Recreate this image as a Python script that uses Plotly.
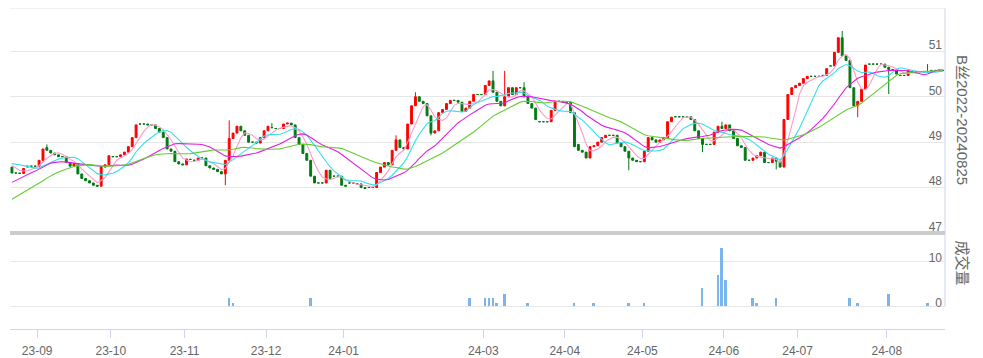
import plotly.graph_objects as go
import pandas as pd

# ---------------- data ----------------
# 29 trading days before the visible window, used only to seed moving averages
pre_close = [46.85, 46.90, 46.95, 47.00, 46.95, 47.00, 47.05, 47.00, 47.10, 47.20,
             47.40, 47.50, 47.55, 47.60, 47.70, 47.75, 47.80, 47.85, 47.90, 47.95,
             48.40, 48.50, 48.60, 48.70, 48.65, 48.60, 48.55, 48.50, 48.45]

open_ = [48.45, 48.32, 48.32, 48.31, 48.45, 48.47, 48.47, 48.47, 48.60, 48.88,
         48.82, 48.76, 48.72, 48.68, 48.68, 48.55, 48.47, 48.53, 48.30, 48.20,
         48.15, 48.10, 48.05, 48.03, 48.45, 48.50, 48.68, 48.68, 48.68, 48.72,
         48.78, 48.90, 49.10, 49.40, 49.40, 49.40, 49.38, 49.38, 49.30, 49.22,
         49.10, 48.85, 48.80, 48.57, 48.52, 48.50, 48.62, 48.60, 48.60, 48.65,
         48.65, 48.48, 48.43, 48.40, 48.35, 48.30, 48.60, 49.08, 49.20, 49.35,
         49.25, 49.15, 49.00, 49.00, 48.98, 49.10, 49.25, 49.32, 49.30, 49.30,
         49.30, 49.40, 49.42, 49.38, 49.10, 48.95, 48.75, 48.60, 48.25, 48.10,
         48.10, 48.10, 48.38, 48.25, 48.25, 48.25, 48.05, 48.10, 48.10, 48.08,
         48.08, 48.00, 48.00, 48.00, 48.00, 48.33, 48.45, 48.55, 48.50, 48.82,
         49.05, 48.88, 48.85, 49.40, 49.80, 50.00, 49.90, 49.85, 49.58, 49.20,
         49.25, 49.65, 49.72, 49.85, 49.92, 49.92, 49.88, 49.68, 49.75, 49.90,
         50.05, 50.05, 50.05, 50.25, 50.35, 50.10, 49.90, 49.80, 50.00, 50.20,
         50.05, 50.20, 50.20, 50.00, 49.85, 49.75, 49.45, 49.45, 49.45, 49.45,
         49.70, 49.90, 49.90, 49.88, 49.88, 49.65, 48.95, 48.82, 48.78, 48.65,
         48.90, 48.92, 49.00, 49.10, 49.15, 49.15, 49.15, 48.98, 48.90, 48.80,
         48.65, 48.60, 48.57, 48.57, 48.80, 49.10, 49.05, 49.00, 49.05, 49.10,
         49.45, 49.56, 49.56, 49.56, 49.56, 49.56, 49.50, 49.25, 49.08, 48.95,
         48.95, 48.95, 49.22, 49.35, 49.30, 49.38, 49.25, 49.08, 48.92, 48.88,
         48.60, 48.60, 48.65, 48.70, 48.78, 48.55, 48.55, 48.65, 48.58, 48.45,
         49.50, 50.05, 50.20, 50.25, 50.30, 50.40, 50.45, 50.45, 50.45, 50.47,
         50.47, 50.68, 50.68, 50.98, 51.30, 50.90, 50.80, 50.20, 49.80, 49.90,
         50.17, 50.72, 50.72, 50.72, 50.72, 50.72, 50.65, 50.60, 50.58, 50.47,
         50.47, 50.47, 50.55, 50.55, 50.55, 50.55, 50.55, 50.58, 50.58, 50.58,
         50.58]

close = [48.32, 48.32, 48.31, 48.42, 48.47, 48.47, 48.47, 48.60, 48.85, 48.82,
         48.76, 48.72, 48.68, 48.68, 48.55, 48.47, 48.53, 48.30, 48.20, 48.15,
         48.10, 48.05, 48.03, 48.45, 48.50, 48.70, 48.68, 48.68, 48.72, 48.78,
         48.90, 49.10, 49.38, 49.40, 49.40, 49.38, 49.38, 49.30, 49.22, 49.10,
         48.85, 48.80, 48.57, 48.52, 48.50, 48.63, 48.62, 48.60, 48.65, 48.65,
         48.48, 48.43, 48.40, 48.35, 48.30, 48.60, 49.08, 49.20, 49.35, 49.25,
         49.15, 49.00, 49.00, 48.98, 49.10, 49.25, 49.35, 49.32, 49.30, 49.30,
         49.40, 49.42, 49.38, 49.10, 48.95, 48.75, 48.60, 48.25, 48.10, 48.10,
         48.10, 48.38, 48.20, 48.25, 48.25, 48.05, 48.03, 48.10, 48.10, 48.08,
         48.00, 47.98, 48.00, 48.00, 48.33, 48.45, 48.55, 48.50, 48.82, 49.05,
         48.88, 48.85, 49.40, 49.80, 50.00, 49.90, 49.85, 49.58, 49.20, 49.25,
         49.65, 49.72, 49.85, 49.92, 49.92, 49.88, 49.68, 49.75, 49.90, 50.05,
         50.05, 50.05, 50.25, 50.35, 50.10, 49.90, 49.80, 50.00, 50.20, 50.05,
         50.20, 50.20, 50.00, 49.85, 49.75, 49.50, 49.45, 49.45, 49.45, 49.70,
         49.90, 49.90, 49.88, 49.88, 49.65, 48.90, 48.82, 48.78, 48.65, 48.90,
         48.92, 49.00, 49.10, 49.15, 49.15, 49.15, 48.98, 48.90, 48.80, 48.65,
         48.60, 48.57, 48.57, 48.80, 49.10, 49.05, 49.00, 49.05, 49.10, 49.45,
         49.55, 49.56, 49.56, 49.56, 49.56, 49.50, 49.25, 49.08, 48.95, 48.95,
         48.95, 49.22, 49.35, 49.30, 49.38, 49.25, 49.08, 48.92, 48.88, 48.60,
         48.60, 48.65, 48.70, 48.78, 48.55, 48.55, 48.65, 48.58, 48.45, 49.50,
         50.05, 50.20, 50.25, 50.30, 50.40, 50.45, 50.45, 50.45, 50.45, 50.47,
         50.62, 50.68, 50.98, 51.30, 50.90, 50.80, 50.20, 49.80, 49.90, 50.17,
         50.70, 50.72, 50.72, 50.72, 50.72, 50.65, 50.60, 50.58, 50.50, 50.47,
         50.47, 50.58, 50.55, 50.55, 50.55, 50.55, 50.55, 50.58, 50.58, 50.58,
         50.58]

# notable shadows (index -> price); other candles have no visible wicks
wick_high = {9: 48.95, 56: 49.48, 67: 49.42, 99: 49.15, 104: 50.10, 124: 50.57,
             127: 50.57, 132: 50.32, 183: 49.45, 214: 51.45, 236: 50.72}
wick_low = {55: 48.05, 108: 49.15, 159: 48.38, 178: 48.78, 197: 48.40,
            218: 49.55, 226: 50.06}

# volume (index -> lots); all other days zero
volume_nonzero = {56: 1.8, 57: 0.7, 77: 1.8, 118: 1.8, 122: 1.8, 123: 1.8, 124: 1.8,
                  125: 0.7, 127: 2.8, 133: 0.7, 145: 0.7, 150: 0.7, 159: 0.7,
                  163: 0.7, 178: 4.1, 182: 7.0, 183: 13.0, 184: 6.0, 191: 1.8,
                  192: 0.7, 197: 1.8, 216: 1.8, 218: 0.7, 226: 2.8, 236: 0.7}

# month start positions (trading-day index) and labels
month_start = [7, 26, 45, 66, 86, 122, 143, 163, 184, 203, 226]
month_label = ["23-09", "23-10", "23-11", "23-12", "24-01", "24-03",
               "24-04", "24-05", "24-06", "24-07", "24-08"]

ma_periods = [5, 10, 20, 30]
ma_colors = ["#ff99cc", "#33e0ee", "#e020e0", "#66cc33"]

# ---------------- derived ----------------
n = len(close)
idx = list(range(n))
high = [max(o, c, wick_high.get(i, 0)) for i, (o, c) in enumerate(zip(open_, close))]
low = [min(o, c, wick_low.get(i, 99)) for i, (o, c) in enumerate(zip(open_, close))]
volume = [volume_nonzero.get(i, 0) for i in idx]
full = pd.Series(pre_close + close)
npre = len(pre_close)

RED, GREEN = "#ff0000", "#007a14"
body = [i for i in idx if open_[i] != close[i]]
doji = [i for i in idx if open_[i] == close[i]]

def pick(arr, sel):
    return [arr[i] for i in sel]

fig = go.Figure()
fig.add_trace(go.Candlestick(
    x=body, open=pick(open_, body), high=pick(high, body),
    low=pick(low, body), close=pick(close, body),
    increasing=dict(line=dict(color=RED, width=1), fillcolor=RED),
    decreasing=dict(line=dict(color=GREEN, width=1), fillcolor=GREEN),
    xaxis="x", yaxis="y", hoverinfo="skip", whiskerwidth=0))
# flat (open == close) days are drawn as dark-green dashes
fig.add_trace(go.Candlestick(
    x=doji, open=pick(open_, doji), high=pick(high, doji),
    low=pick(low, doji), close=pick(close, doji),
    increasing=dict(line=dict(color=GREEN, width=1), fillcolor=GREEN),
    decreasing=dict(line=dict(color=GREEN, width=1), fillcolor=GREEN),
    xaxis="x", yaxis="y", hoverinfo="skip", whiskerwidth=0))

for p, col in zip(ma_periods, ma_colors):
    ma = full.rolling(p).mean().iloc[npre:].tolist()
    fig.add_trace(go.Scatter(x=idx, y=ma, mode="lines",
                             line=dict(color=col, width=1.1),
                             xaxis="x", yaxis="y", hoverinfo="skip"))

fig.add_trace(go.Bar(x=idx, y=volume, marker=dict(color="#7cb5ec", line=dict(width=0)),
                     width=0.5, xaxis="x2", yaxis="y2", hoverinfo="skip"))

# The page body has an 8px default margin, so the figure is sized to the
# visible window and positions below are given in page pixels.
OFF = 8
W, H = 983 - OFF, 358 - OFF
PX0, PX1 = 10, 945      # plot area, page x
PY0, PY1 = OFF, 332     # plot area, page y
L, R = PX0 - OFF, W - (PX1 - OFF)
T, B = PY0 - OFF, H - (PY1 - OFF)
ph = PY1 - PY0
pw = PX1 - PX0

def py(Y):
    return (PY1 - Y) / ph

def px(X):
    return (X - PX0) / pw

PPU = 45.8                     # pixels per price unit (47 at page y 235)
price_bot_y = 245              # price domain bottom (page y), a little below 47
price_top = 47 + (235 - PY0) / PPU
price_bot = 47 - (price_bot_y - 235) / PPU
VPU = 4.5                      # pixels per volume unit (0 at page y 309)
vol_top = (309 - 237) / VPU
vol_bot = -(PY1 - 309) / VPU

font = "Liberation Sans, Arial, Noto Sans CJK SC, sans-serif"
grid = "#e6e6e6"
axc = "#ccd6eb"

fig.update_layout(
    width=W, height=H, margin=dict(l=L, r=R, t=T, b=B, pad=0),
    paper_bgcolor="white", plot_bgcolor="white", showlegend=False,
    font=dict(family=font, size=12, color="#666666"),
    xaxis=dict(domain=[0, 1], anchor="y", range=[-0.5, n - 0.5],
               showticklabels=False, showgrid=False, zeroline=False,
               rangeslider=dict(visible=False), ticks="", showline=False),
    xaxis2=dict(domain=[0, 1], anchor="free", position=0, matches="x",
                range=[-0.5, n - 0.5], tickmode="array",
                tickvals=[m - 0.5 for m in month_start], ticktext=month_label,
                ticks="outside", ticklen=8, tickcolor=axc, tickwidth=1,
                ticklabelstandoff=3,
                showline=True, linecolor=axc, linewidth=1, showgrid=False,
                zeroline=False, tickfont=dict(size=12, color="#666666")),
    yaxis=dict(domain=[py(price_bot_y), 1], anchor="x", side="right",
               range=[price_bot, price_top],
               tickmode="array", tickvals=[47, 48, 49, 50, 51],
               ticklabelposition="inside top", ticklabelshift=2, ticks="",
               gridcolor=grid, gridwidth=1, showline=False,
               zeroline=False, tickfont=dict(size=12, color="#666666")),
    yaxis2=dict(domain=[0, py(237)], anchor="x2", side="right",
                range=[vol_bot, vol_top], tickmode="array", tickvals=[0, 10],
                ticklabelposition="inside top", ticklabelshift=5, ticks="",
                gridcolor=grid, gridwidth=1, showline=False,
                zeroline=False, tickfont=dict(size=12, color="#666666")),
    bargap=0,
)

# top border line, right axis line and panel separator
fig.add_shape(type="line", xref="paper", yref="paper", x0=0, x1=1, y0=1, y1=1,
              line=dict(color=grid, width=1))
fig.add_shape(type="line", xref="paper", yref="paper", x0=1, x1=1,
              y0=py(309), y1=1, line=dict(color=axc, width=1))
fig.add_shape(type="line", xref="paper", yref="paper", x0=0, x1=1,
              y0=py(235), y1=py(235), line=dict(color="#cccccc", width=4))

fig.add_annotation(text="B丝2022-20240825", xref="paper", yref="paper",
                   x=px(962), y=py(121), xanchor="center", yanchor="middle",
                   showarrow=False, textangle=90,
                   font=dict(size=15, color="#666666"))
fig.add_annotation(text="成交量", xref="paper", yref="paper",
                   x=px(962), y=py(266), xanchor="center", yanchor="middle",
                   showarrow=False, textangle=90,
                   font=dict(size=15, color="#666666"))

fig.write_html("out.html")
